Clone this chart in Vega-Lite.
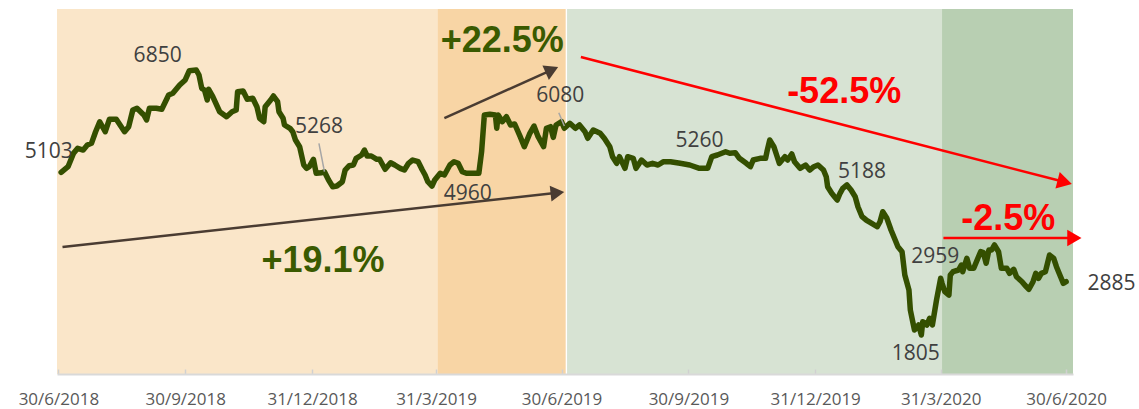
{
  "$schema": "https://vega.github.io/schema/vega-lite/v6.json",
  "width": 1016,
  "height": 365,
  "autosize": "none",
  "padding": {"left": 57, "top": 9, "right": 66, "bottom": 35},
  "config": {"view": {"stroke": null}},
  "datasets": {
    "bg": [
      {"start": "2018-06-29", "end": "2019-04-01", "phase": "Q3 2018 - Q1 2019"},
      {"start": "2019-04-01", "end": "2019-07-03", "phase": "Q2 2019"},
      {"start": "2019-07-04", "end": "2020-04-01", "phase": "Q3 2019 - Q1 2020"},
      {"start": "2020-04-01", "end": "2020-07-05", "phase": "Q2 2020"}
    ],
    "line": [
      {"date":"2018-07-02","value":5013},{"date":"2018-07-07","value":5119},{"date":"2018-07-11","value":5372},{"date":"2018-07-14","value":5467},
      {"date":"2018-07-18","value":5434},{"date":"2018-07-21","value":5529},{"date":"2018-07-24","value":5561},{"date":"2018-07-27","value":5780},
      {"date":"2018-07-30","value":5969},{"date":"2018-08-03","value":5780},{"date":"2018-08-06","value":6015},{"date":"2018-08-11","value":6015},
      {"date":"2018-08-17","value":5780},{"date":"2018-08-20","value":5875},{"date":"2018-08-23","value":6191},{"date":"2018-08-26","value":6223},
      {"date":"2018-08-31","value":6096},{"date":"2018-09-02","value":6002},{"date":"2018-09-04","value":6223},{"date":"2018-09-09","value":6223},
      {"date":"2018-09-13","value":6204},{"date":"2018-09-18","value":6474},{"date":"2018-09-21","value":6506},{"date":"2018-09-26","value":6663},
      {"date":"2018-09-30","value":6758},{"date":"2018-10-03","value":6933},{"date":"2018-10-08","value":6947},{"date":"2018-10-10","value":6852},
      {"date":"2018-10-12","value":6601},{"date":"2018-10-14","value":6569},{"date":"2018-10-16","value":6380},{"date":"2018-10-17","value":6582},
      {"date":"2018-10-20","value":6442},{"date":"2018-10-25","value":6158},{"date":"2018-10-30","value":6064},{"date":"2018-11-03","value":6158},
      {"date":"2018-11-06","value":6191},{"date":"2018-11-07","value":6537},{"date":"2018-11-11","value":6550},{"date":"2018-11-14","value":6393},
      {"date":"2018-11-18","value":6412},{"date":"2018-11-21","value":6253},{"date":"2018-11-23","value":6034},{"date":"2018-11-26","value":5969},
      {"date":"2018-11-27","value":6253},{"date":"2018-12-01","value":6380},{"date":"2018-12-03","value":6455},{"date":"2018-12-06","value":6347},
      {"date":"2018-12-07","value":6158},{"date":"2018-12-10","value":6034},{"date":"2018-12-11","value":5907},{"date":"2018-12-15","value":5845},
      {"date":"2018-12-17","value":5780},{"date":"2018-12-19","value":5623},{"date":"2018-12-22","value":5497},{"date":"2018-12-25","value":5151},
      {"date":"2018-12-27","value":5088},{"date":"2018-12-29","value":5119},{"date":"2019-01-01","value":5259},{"date":"2019-01-03","value":4994},
      {"date":"2019-01-07","value":5005},{"date":"2019-01-09","value":5024},{"date":"2019-01-12","value":4867},{"date":"2019-01-15","value":4741},
      {"date":"2019-01-18","value":4754},{"date":"2019-01-22","value":4835},{"date":"2019-01-24","value":5056},{"date":"2019-01-27","value":5138},
      {"date":"2019-01-30","value":5151},{"date":"2019-02-01","value":5277},{"date":"2019-02-05","value":5340},{"date":"2019-02-07","value":5434},
      {"date":"2019-02-09","value":5321},{"date":"2019-02-12","value":5321},{"date":"2019-02-16","value":5259},{"date":"2019-02-18","value":5259},
      {"date":"2019-02-22","value":5070},{"date":"2019-02-26","value":5194},{"date":"2019-03-01","value":5151},{"date":"2019-03-05","value":5088},
      {"date":"2019-03-08","value":5056},{"date":"2019-03-11","value":5183},{"date":"2019-03-14","value":5245},{"date":"2019-03-18","value":5213},
      {"date":"2019-03-21","value":5056},{"date":"2019-03-23","value":4962},{"date":"2019-03-25","value":4835},{"date":"2019-03-28","value":4754},
      {"date":"2019-03-30","value":4867},{"date":"2019-04-03","value":4994},{"date":"2019-04-06","value":4962},{"date":"2019-04-10","value":5151},
      {"date":"2019-04-13","value":5213},{"date":"2019-04-16","value":5183},{"date":"2019-04-19","value":5024},{"date":"2019-04-22","value":4994},
      {"date":"2019-04-27","value":4994},{"date":"2019-05-01","value":4994},{"date":"2019-05-03","value":5402},{"date":"2019-05-05","value":6096},
      {"date":"2019-05-09","value":6109},{"date":"2019-05-13","value":6096},{"date":"2019-05-14","value":5845},{"date":"2019-05-15","value":6096},
      {"date":"2019-05-18","value":5969},{"date":"2019-05-21","value":6064},{"date":"2019-05-24","value":5907},{"date":"2019-05-27","value":5926},
      {"date":"2019-05-31","value":5686},{"date":"2019-06-03","value":5497},{"date":"2019-06-07","value":5750},{"date":"2019-06-10","value":5888},
      {"date":"2019-06-13","value":5686},{"date":"2019-06-17","value":5497},{"date":"2019-06-19","value":5845},{"date":"2019-06-22","value":5875},
      {"date":"2019-06-24","value":5674},{"date":"2019-06-26","value":5907},{"date":"2019-06-30","value":5969},{"date":"2019-07-02","value":5845},
      {"date":"2019-07-06","value":5939},{"date":"2019-07-10","value":5845},{"date":"2019-07-13","value":5907},{"date":"2019-07-17","value":5780},
      {"date":"2019-07-19","value":5656},{"date":"2019-07-23","value":5812},{"date":"2019-07-28","value":5750},{"date":"2019-07-31","value":5656},
      {"date":"2019-08-04","value":5497},{"date":"2019-08-06","value":5308},{"date":"2019-08-09","value":5183},{"date":"2019-08-11","value":5308},
      {"date":"2019-08-15","value":5088},{"date":"2019-08-17","value":5308},{"date":"2019-08-21","value":5277},{"date":"2019-08-23","value":5088},
      {"date":"2019-08-27","value":5245},{"date":"2019-08-31","value":5151},{"date":"2019-09-04","value":5183},{"date":"2019-09-08","value":5151},
      {"date":"2019-09-12","value":5213},{"date":"2019-09-17","value":5213},{"date":"2019-09-24","value":5183},{"date":"2019-10-01","value":5151},
      {"date":"2019-10-08","value":5088},{"date":"2019-10-14","value":5088},{"date":"2019-10-17","value":5308},{"date":"2019-10-21","value":5340},
      {"date":"2019-10-27","value":5402},{"date":"2019-10-30","value":5372},{"date":"2019-11-03","value":5383},{"date":"2019-11-06","value":5277},
      {"date":"2019-11-11","value":5183},{"date":"2019-11-14","value":5119},{"date":"2019-11-16","value":5245},{"date":"2019-11-21","value":5277},
      {"date":"2019-11-25","value":5277},{"date":"2019-11-26","value":5402},{"date":"2019-11-28","value":5623},{"date":"2019-12-01","value":5497},
      {"date":"2019-12-03","value":5340},{"date":"2019-12-05","value":5183},{"date":"2019-12-09","value":5308},{"date":"2019-12-11","value":5245},
      {"date":"2019-12-14","value":5359},{"date":"2019-12-16","value":5213},{"date":"2019-12-20","value":5088},{"date":"2019-12-24","value":5151},
      {"date":"2019-12-27","value":5056},{"date":"2019-12-30","value":5119},{"date":"2020-01-02","value":5151},{"date":"2020-01-06","value":5056},
      {"date":"2020-01-08","value":4930},{"date":"2020-01-09","value":4741},{"date":"2020-01-12","value":4616},{"date":"2020-01-14","value":4552},
      {"date":"2020-01-16","value":4489},{"date":"2020-01-18","value":4616},{"date":"2020-01-20","value":4710},{"date":"2020-01-23","value":4773},
      {"date":"2020-01-26","value":4678},{"date":"2020-01-29","value":4552},{"date":"2020-01-31","value":4363},{"date":"2020-02-03","value":4174},
      {"date":"2020-02-06","value":4111},{"date":"2020-02-10","value":4049},{"date":"2020-02-14","value":3984},{"date":"2020-02-16","value":4079},
      {"date":"2020-02-18","value":4268},{"date":"2020-02-21","value":4143},{"date":"2020-02-24","value":3922},{"date":"2020-02-27","value":3733},
      {"date":"2020-02-29","value":3606},{"date":"2020-03-03","value":3512},{"date":"2020-03-05","value":3071},{"date":"2020-03-08","value":2788},
      {"date":"2020-03-09","value":2410},{"date":"2020-03-11","value":2158},{"date":"2020-03-12","value":2032},{"date":"2020-03-15","value":2126},
      {"date":"2020-03-17","value":1937},{"date":"2020-03-18","value":2189},{"date":"2020-03-21","value":2126},{"date":"2020-03-23","value":2253},
      {"date":"2020-03-25","value":2126},{"date":"2020-03-28","value":2599},{"date":"2020-03-31","value":3009},{"date":"2020-04-01","value":2914},
      {"date":"2020-04-03","value":2756},{"date":"2020-04-06","value":2693},{"date":"2020-04-07","value":3071},{"date":"2020-04-09","value":3134},
      {"date":"2020-04-13","value":3166},{"date":"2020-04-15","value":3260},{"date":"2020-04-16","value":3134},{"date":"2020-04-19","value":3387},
      {"date":"2020-04-21","value":3198},{"date":"2020-04-24","value":3198},{"date":"2020-04-27","value":3387},{"date":"2020-04-29","value":3512},
      {"date":"2020-05-01","value":3493},{"date":"2020-05-03","value":3293},{"date":"2020-05-05","value":3544},{"date":"2020-05-07","value":3544},
      {"date":"2020-05-09","value":3639},{"date":"2020-05-12","value":3512},{"date":"2020-05-14","value":3198},{"date":"2020-05-18","value":3198},
      {"date":"2020-05-20","value":3103},{"date":"2020-05-23","value":3179},{"date":"2020-05-25","value":3039},{"date":"2020-05-29","value":2945},
      {"date":"2020-05-31","value":2882},{"date":"2020-06-03","value":2801},{"date":"2020-06-06","value":2945},{"date":"2020-06-08","value":3103},
      {"date":"2020-06-10","value":3009},{"date":"2020-06-12","value":3103},{"date":"2020-06-15","value":3134},{"date":"2020-06-18","value":3449},
      {"date":"2020-06-21","value":3387},{"date":"2020-06-23","value":3228},{"date":"2020-06-26","value":3039},{"date":"2020-06-28","value":2914},
      {"date":"2020-06-30","value":2945}
    ],
    "arrows": [
      {"id": "rise-all", "date": "2018-07-03", "value": 3601, "date2": "2019-06-27", "value2": 4625},
      {"id": "rise-q2", "date": "2019-04-06", "value": 6039, "date2": "2019-06-23", "value2": 6949},
      {"id": "fall-all", "date": "2019-07-14", "value": 7192, "date2": "2020-06-29", "value2": 4828},
      {"id": "fall-q2", "date": "2020-04-02", "value": 3771, "date2": "2020-07-06", "value2": 3771}
    ],
    "leaders": [
      {"date": "2019-01-05", "value": 5561, "date2": "2019-01-09", "value2": 5024},
      {"date": "2019-06-28", "value": 6140, "date2": "2019-07-02", "value2": 5888}
    ],
    "labels": [
      {"date": "2018-06-23", "value": 5277, "label": "5103"},
      {"date": "2018-09-10", "value": 7104, "label": "6850"},
      {"date": "2019-01-05", "value": 5750, "label": "5268"},
      {"date": "2019-06-29", "value": 6348, "label": "6080"},
      {"date": "2019-04-23", "value": 4489, "label": "4960"},
      {"date": "2019-10-08", "value": 5497, "label": "5260"},
      {"date": "2020-02-03", "value": 4899, "label": "5188"},
      {"date": "2020-03-27", "value": 3304, "label": "2959"},
      {"date": "2020-03-13", "value": 1465, "label": "1805"},
      {"date": "2020-08-02", "value": 2788, "label": "2885"}
    ],
    "pct": [
      {"date": "2019-01-08", "value": 3128, "label": "+19.1%", "dir": "rise"},
      {"date": "2019-05-18", "value": 7287, "label": "+22.5%", "dir": "rise"},
      {"date": "2020-01-21", "value": 6317, "label": "-52.5%", "dir": "fall"},
      {"date": "2020-05-19", "value": 3922, "label": "-2.5%", "dir": "fall"}
    ]
  },
  "layer": [
    {
      "data": {"name": "bg"},
      "mark": {"type": "rect"},
      "encoding": {
        "x": {
          "field": "start", "type": "temporal",
          "scale": {"type": "utc", "domain": [{"year": 2018, "month": 6, "date": 29, "utc": true}, {"year": 2020, "month": 7, "date": 5, "utc": true}], "nice": false},
          "axis": {
            "title": null,
            "values": [
              {"year": 2018, "month": 6, "date": 30, "utc": true},
              {"year": 2018, "month": 9, "date": 30, "utc": true},
              {"year": 2018, "month": 12, "date": 31, "utc": true},
              {"year": 2019, "month": 3, "date": 31, "utc": true},
              {"year": 2019, "month": 6, "date": 30, "utc": true},
              {"year": 2019, "month": 9, "date": 30, "utc": true},
              {"year": 2019, "month": 12, "date": 31, "utc": true},
              {"year": 2020, "month": 3, "date": 31, "utc": true},
              {"year": 2020, "month": 6, "date": 30, "utc": true}
            ],
            "labelExpr": "utcFormat(datum.value, '%-d/%-m/%Y')",
            "grid": false,
            "zindex": 1,
            "domainColor": "#d9d9d9",
            "domainWidth": 2,
            "tickColor": "#d0d0d0",
            "tickWidth": 1.5,
            "tickSize": -5,
            "labelFont": "Open Sans",
            "labelFontSize": 17,
            "labelColor": "#595959",
            "labelPadding": 35,
            "labelBaseline": "alphabetic",
            "labelFlush": false,
            "labelOverlap": false
          }
        },
        "x2": {"field": "end"},
        "color": {
          "field": "phase", "type": "nominal", "legend": null,
          "scale": {"domain": ["Q3 2018 - Q1 2019", "Q2 2019", "Q3 2019 - Q1 2020", "Q2 2020"], "range": ["#fae6c9", "#f8d5a5", "#d7e3d3", "#b8cfb2"]}
        }
      }
    },
    {
      "data": {"name": "line"},
      "mark": {"type": "line", "color": "#344f00", "strokeWidth": 5.5, "strokeCap": "round", "strokeJoin": "round"},
      "encoding": {
        "x": {"field": "date", "type": "temporal"},
        "y": {"field": "value", "type": "quantitative", "scale": {"domain": [1200, 8100], "nice": false, "zero": false}, "axis": null}
      }
    },
    {
      "data": {"name": "arrows"},
      "transform": [{"filter": "datum.id == 'rise-all' || datum.id == 'rise-q2'"}],
      "mark": {"type": "rule", "color": "#4a3c32", "strokeWidth": 2.5},
      "encoding": {
        "x": {"field": "date", "type": "temporal"},
        "x2": {"field": "date2"},
        "y": {"field": "value", "type": "quantitative", "axis": null},
        "y2": {"field": "value2"}
      }
    },
    {
      "data": {"name": "arrows"},
      "transform": [{"filter": "datum.id == 'fall-all' || datum.id == 'fall-q2'"}],
      "mark": {"type": "rule", "color": "#ff0000", "strokeWidth": 2.5},
      "encoding": {
        "x": {"field": "date", "type": "temporal"},
        "x2": {"field": "date2"},
        "y": {"field": "value", "type": "quantitative", "axis": null},
        "y2": {"field": "value2"}
      }
    },
    {
      "data": {"name": "arrows"},
      "transform": [{"filter": "datum.id == 'rise-all'"}],
      "mark": {"type": "point", "shape": "triangle-right", "filled": true, "opacity": 1, "color": "#4a3c32", "size": 250, "angle": 353.75},
      "encoding": {
        "x": {"field": "date2", "type": "temporal"},
        "y": {"field": "value2", "type": "quantitative", "axis": null}
      }
    },
    {
      "data": {"name": "arrows"},
      "transform": [{"filter": "datum.id == 'rise-q2'"}],
      "mark": {"type": "point", "shape": "triangle-right", "filled": true, "opacity": 1, "color": "#4a3c32", "size": 250, "angle": 335.9},
      "encoding": {
        "x": {"field": "date2", "type": "temporal"},
        "y": {"field": "value2", "type": "quantitative", "axis": null}
      }
    },
    {
      "data": {"name": "arrows"},
      "transform": [{"filter": "datum.id == 'fall-all'"}],
      "mark": {"type": "point", "shape": "triangle-right", "filled": true, "opacity": 1, "color": "#ff0000", "size": 290, "angle": 14.5},
      "encoding": {
        "x": {"field": "date2", "type": "temporal"},
        "y": {"field": "value2", "type": "quantitative", "axis": null}
      }
    },
    {
      "data": {"name": "arrows"},
      "transform": [{"filter": "datum.id == 'fall-q2'"}],
      "mark": {"type": "point", "shape": "triangle-right", "filled": true, "opacity": 1, "color": "#ff0000", "size": 270, "angle": 0},
      "encoding": {
        "x": {"field": "date2", "type": "temporal"},
        "y": {"field": "value2", "type": "quantitative", "axis": null}
      }
    },
    {
      "data": {"name": "leaders"},
      "mark": {"type": "rule", "color": "#a6a6a6", "strokeWidth": 1.5},
      "encoding": {
        "x": {"field": "date", "type": "temporal"},
        "x2": {"field": "date2"},
        "y": {"field": "value", "type": "quantitative", "axis": null},
        "y2": {"field": "value2"}
      }
    },
    {
      "data": {"name": "labels"},
      "mark": {"type": "text", "font": "Open Sans", "fontSize": 21, "color": "#404040", "align": "center", "baseline": "alphabetic"},
      "encoding": {
        "x": {"field": "date", "type": "temporal"},
        "y": {"field": "value", "type": "quantitative", "axis": null},
        "text": {"field": "label"}
      }
    },
    {
      "data": {"name": "pct"},
      "mark": {"type": "text", "font": "Liberation Sans", "fontWeight": "bold", "fontSize": 36, "align": "center", "baseline": "alphabetic"},
      "encoding": {
        "x": {"field": "date", "type": "temporal"},
        "y": {"field": "value", "type": "quantitative", "axis": null},
        "text": {"field": "label"},
        "color": {"field": "dir", "type": "nominal", "legend": null, "scale": {"domain": ["rise", "fall"], "range": ["#3a5a00", "#ff0000"]}}
      }
    }
  ],
  "resolve": {"scale": {"color": "independent"}}
}
